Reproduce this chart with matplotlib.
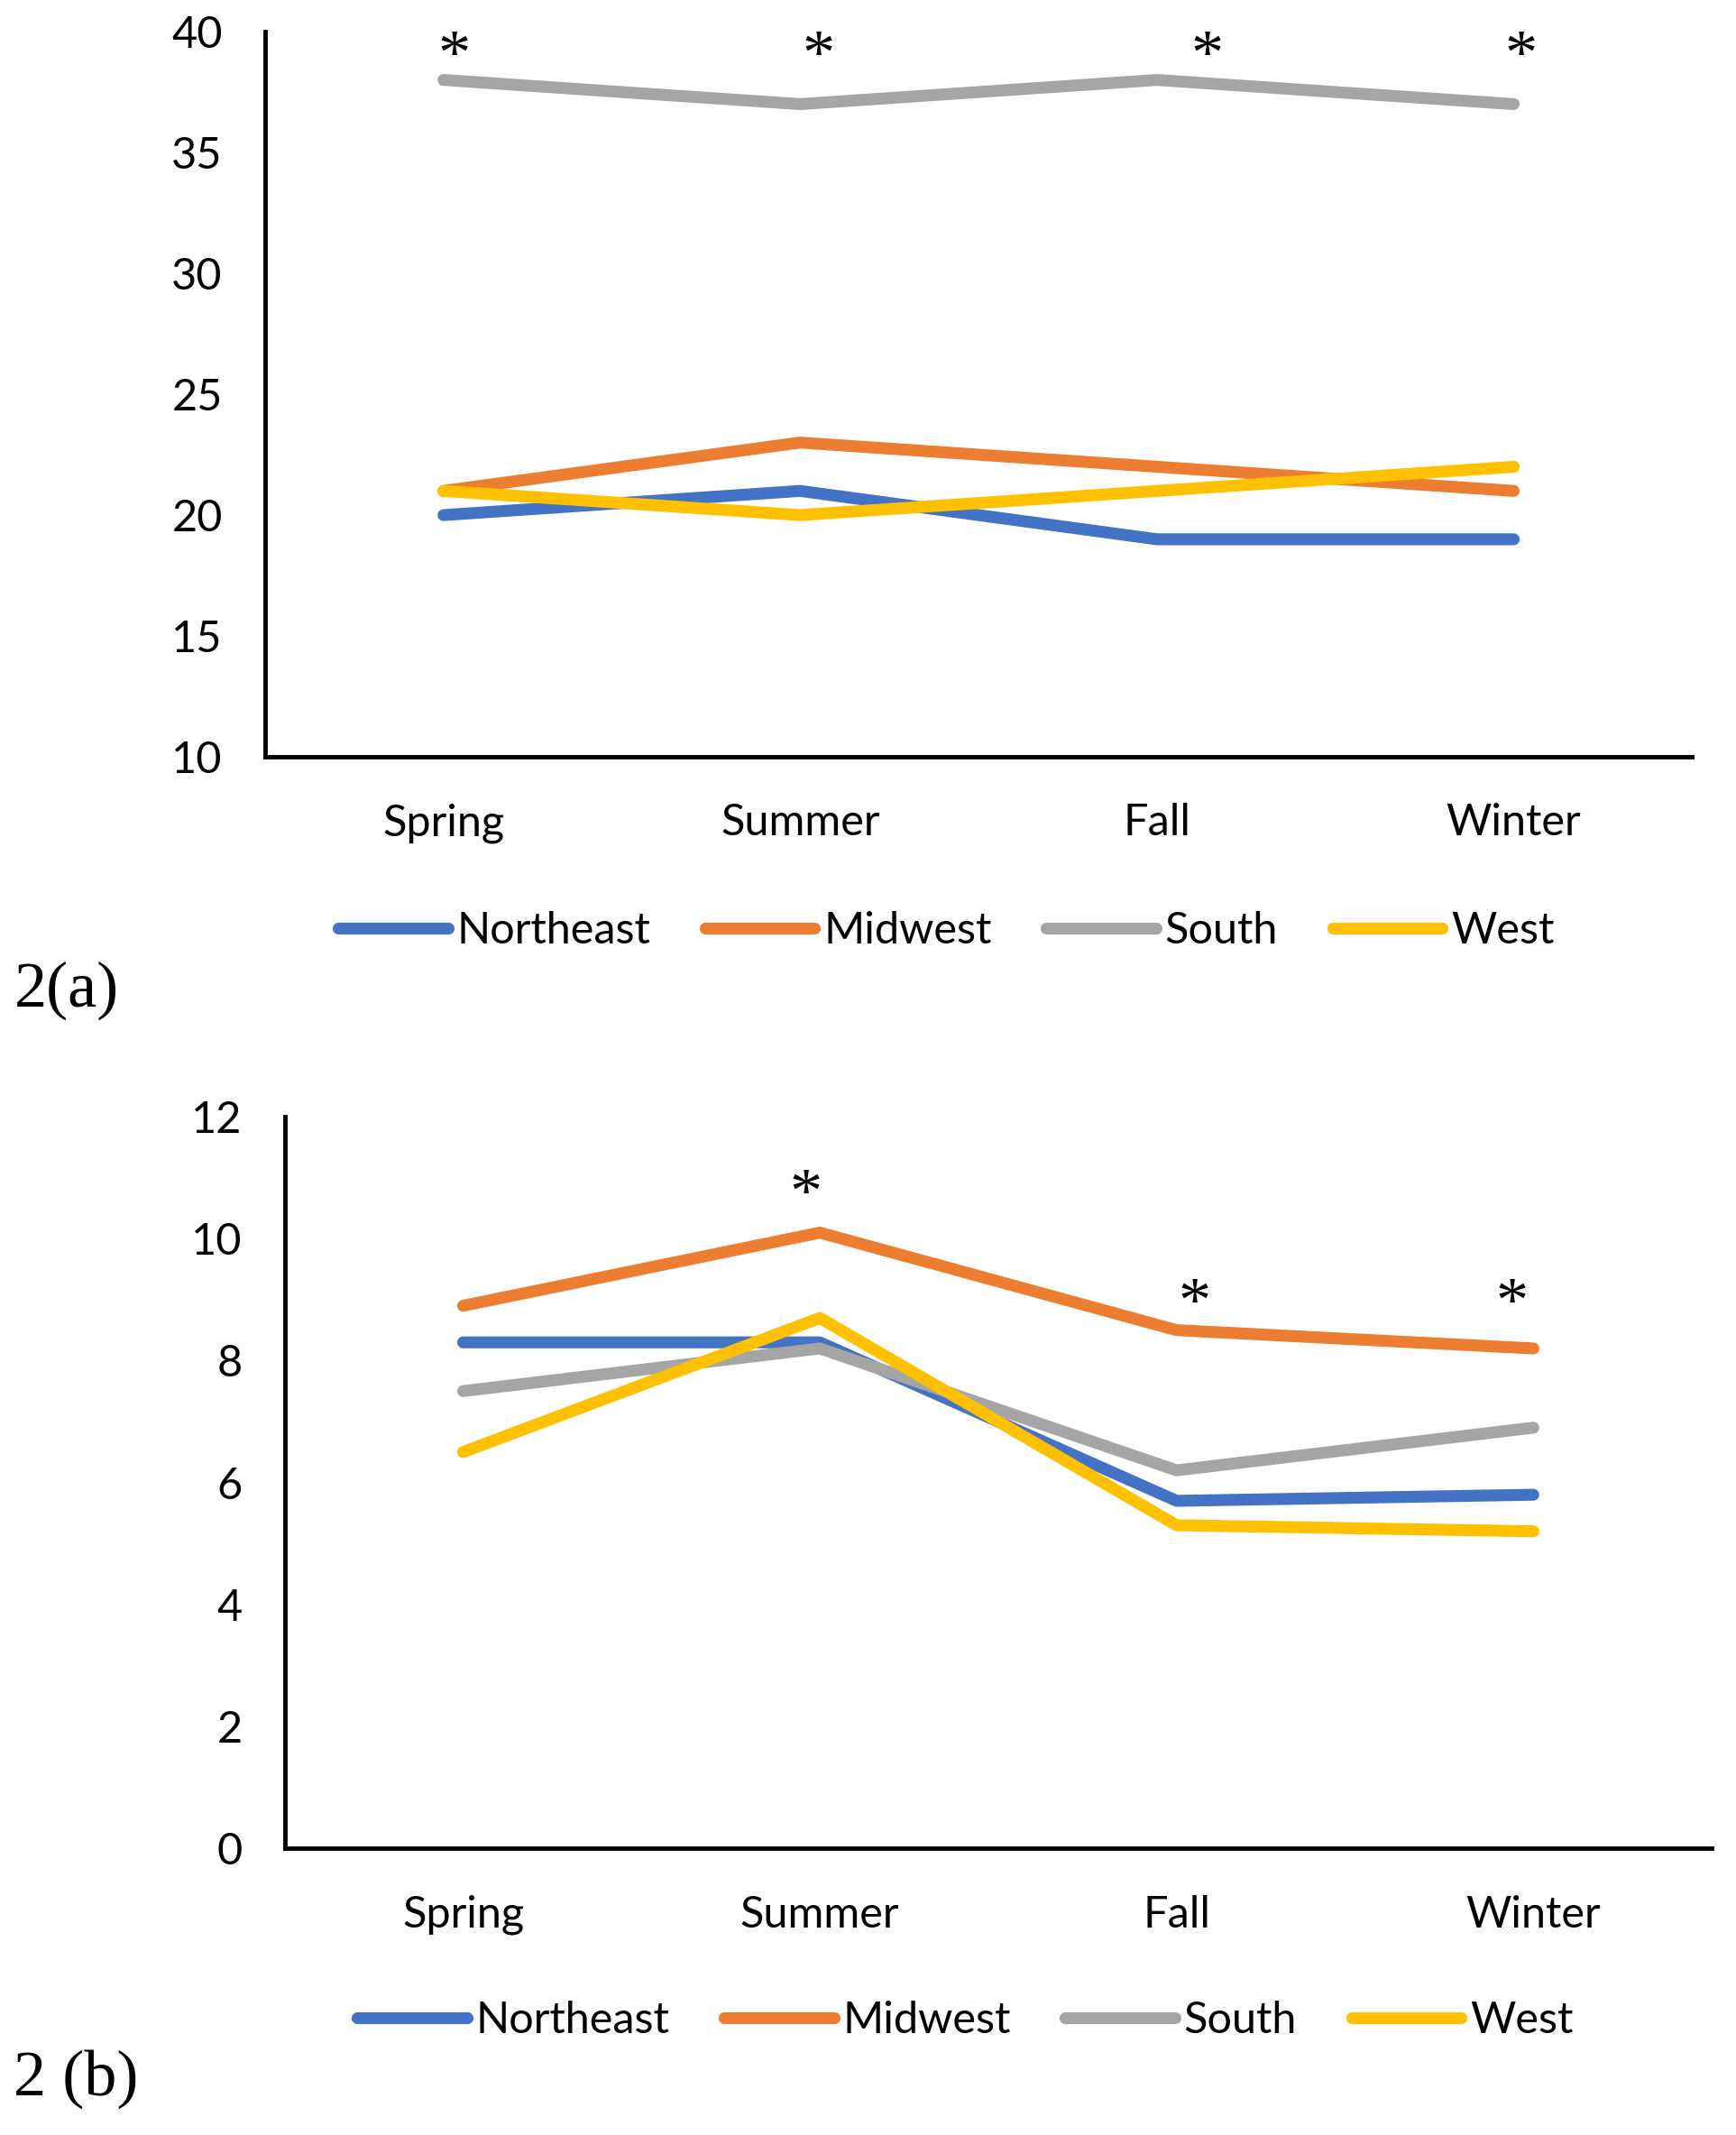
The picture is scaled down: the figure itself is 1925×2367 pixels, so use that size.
import matplotlib
matplotlib.use("Agg")
import matplotlib.pyplot as plt

plt.rcParams['font.family'] = ['Lato', 'DejaVu Sans']

seasons = ['Spring', 'Summer', 'Fall', 'Winter']
regions = ['Northeast', 'Midwest', 'South', 'West']
colors = ['#4472C4', '#ED7D31', '#A5A5A5', '#FFC000']

# panel 2(a)
a_northeast = [20, 21, 19, 19]
a_midwest = [21, 23, 22, 21]
a_south = [38, 37, 38, 37]
a_west = [21, 20, 21, 22]
a_star_pos = [0.03, 1.05, 2.14, 3.02]
a_star_y = 38.9

# panel 2(b)
b_northeast = [8.3, 8.3, 5.7, 5.8]
b_midwest = [8.9, 10.1, 8.5, 8.2]
b_south = [7.5, 8.2, 6.2, 6.9]
b_west = [6.5, 8.7, 5.3, 5.2]
b_star_pos = [0.96, 2.05, 2.94]
b_star_y = [10.7, 8.9, 8.9]

fig = plt.figure(figsize=(19.25, 23.67), dpi=100)


def panel(rect, series, ylim, yticks, star_x, star_y, leg_xy, tag, tag_xy):
    ax = fig.add_axes(rect)
    x = range(len(seasons))
    handles = []
    for vals, name, c in zip(series, regions, colors):
        h, = ax.plot(x, vals, color=c, lw=9.5, label=name,
                     solid_capstyle='round', solid_joinstyle='round')
        handles.append(h)
    for sx, sy in zip(star_x, star_y):
        ax.text(sx, sy, '*', ha='center', va='center', fontsize=52,
                family='Liberation Serif')
    ax.set_xlim(-0.5, 3.5)
    ax.set_ylim(*ylim)
    ax.set_yticks(yticks)
    ax.set_xticks(list(x))
    ax.set_xticklabels(seasons)
    for s in ['top', 'right']:
        ax.spines[s].set_visible(False)
    for s in ['left', 'bottom']:
        ax.spines[s].set_linewidth(3.5)
    ax.tick_params(axis='both', length=0, labelsize=35)
    ax.tick_params(axis='y', pad=34)
    ax.tick_params(axis='x', pad=37)
    fig.legend(handles=handles, loc='center', bbox_to_anchor=leg_xy, ncol=4,
               frameon=False, fontsize=35, handlelength=2.5, handletextpad=0.2,
               columnspacing=1.25)
    fig.text(tag_xy[0], tag_xy[1], tag, ha='left', va='center', fontsize=52,
             family='Liberation Serif')
    return ax


panel([0.1527, 0.6455, 0.822, 0.3397],
      [a_northeast, a_midwest, a_south, a_west],
      (10, 40), range(10, 41, 5), a_star_pos, [a_star_y] * 4,
      (0.545, 0.564), '2(a)', (0.008, 0.536))

panel([0.164, 0.1343, 0.822, 0.3426],
      [b_northeast, b_midwest, b_south, b_west],
      (0, 12), range(0, 13, 2), b_star_pos, b_star_y,
      (0.556, 0.0535), '2 (b)', (0.008, 0.026))

fig.savefig('out.png', dpi=100)
